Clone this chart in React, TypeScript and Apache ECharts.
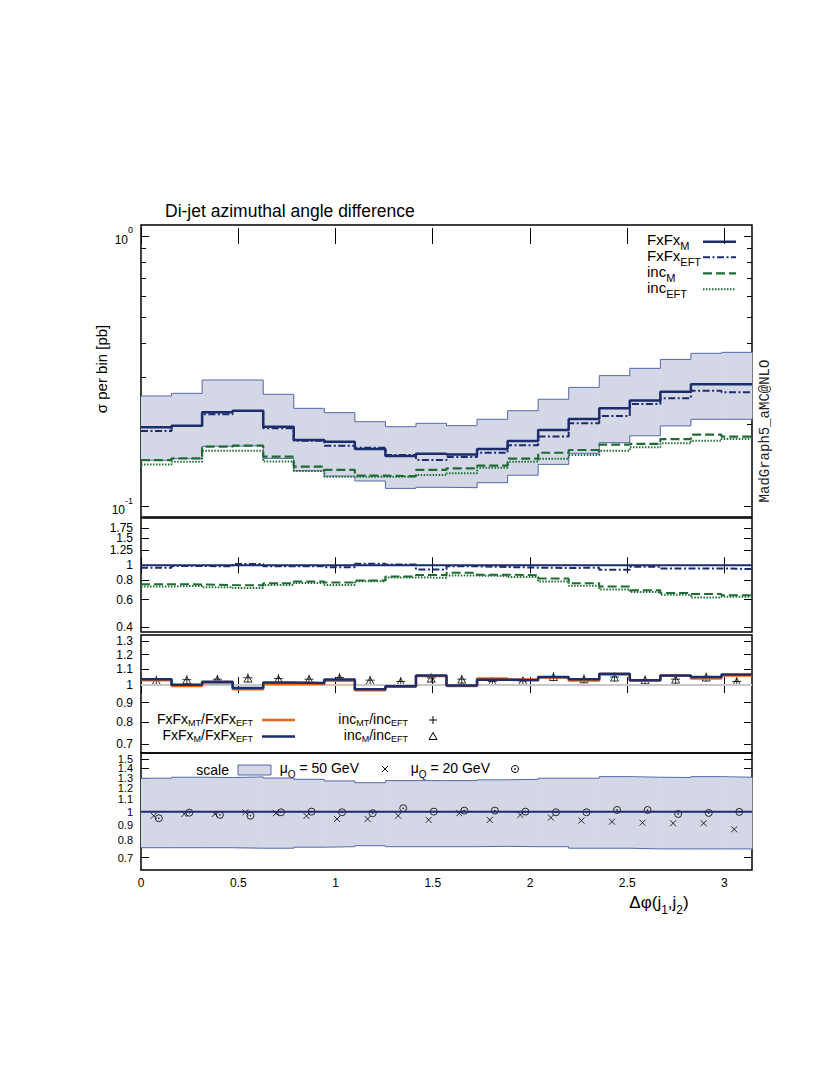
import React, { useEffect, useRef } from "react";
import * as echarts from "echarts";

// ---------------- data ----------------
const xTickValues = [0, 0.5, 1, 1.5, 2, 2.5, 3];

// Panel 1: sigma per bin [pb] (20 bins over 0..pi)
const fxfxM = [0.1956, 0.1984, 0.2223, 0.2254, 0.1967, 0.1756, 0.173, 0.1626, 0.1532, 0.156, 0.155, 0.1626, 0.174, 0.191, 0.21, 0.23, 0.246, 0.265, 0.2823, 0.2823];
const fxfxEFT = [0.1896, 0.198, 0.2185, 0.2249, 0.194, 0.1746, 0.1673, 0.1644, 0.1545, 0.148, 0.152, 0.1575, 0.168, 0.1807, 0.2024, 0.2154, 0.2386, 0.2505, 0.2673, 0.2636];
const incM = [0.148, 0.15, 0.166, 0.1673, 0.1523, 0.14, 0.136, 0.1295, 0.129, 0.136, 0.1379, 0.141, 0.1497, 0.1575, 0.1612, 0.1687, 0.1698, 0.177, 0.1837, 0.1807];
const incEFT = [0.1426, 0.146, 0.1602, 0.1602, 0.1463, 0.1349, 0.1284, 0.1284, 0.1284, 0.1303, 0.1322, 0.1386, 0.146, 0.1497, 0.1545, 0.1602, 0.165, 0.1706, 0.1746, 0.177];
const bandUp = [0.2555, 0.2614, 0.2929, 0.2929, 0.2592, 0.23, 0.2217, 0.2052, 0.1967, 0.2024, 0.1984, 0.2095, 0.2254, 0.2485, 0.275, 0.304, 0.3235, 0.349, 0.3677, 0.3708];
const bandLo = [0.1476, 0.1497, 0.1664, 0.1673, 0.15, 0.135, 0.129, 0.1238, 0.1162, 0.1173, 0.1169, 0.122, 0.13, 0.1426, 0.1567, 0.1716, 0.182, 0.198, 0.2095, 0.2095];

// Panel 2: ratios to FxFx_M
const r2FxM = [1, 1, 1, 1, 1, 1, 1, 1, 1, 1, 1, 1, 1, 1, 1, 1, 1, 1, 1, 1];
const r2FxEFT = [0.966, 0.99, 0.985, 1.02, 0.985, 0.985, 0.972, 1.025, 1.012, 0.94, 0.985, 0.975, 0.966, 0.96, 0.966, 0.937, 0.98, 0.955, 0.955, 0.945];
const r2IncM = [0.755, 0.752, 0.745, 0.742, 0.765, 0.785, 0.775, 0.796, 0.845, 0.865, 0.895, 0.87, 0.862, 0.822, 0.765, 0.73, 0.69, 0.662, 0.652, 0.64];
const r2IncEFT = [0.73, 0.736, 0.722, 0.712, 0.745, 0.768, 0.745, 0.79, 0.835, 0.83, 0.858, 0.852, 0.84, 0.786, 0.738, 0.697, 0.672, 0.645, 0.62, 0.627];

// Panel 3: ratios to EFT
const r3FxMT = [1.03, 0.995, 1.013, 0.976, 1.006, 1.006, 1.026, 0.97, 0.99, 1.056, 0.994, 1.04, 1.034, 1.046, 1.028, 1.066, 1.028, 1.058, 1.04, 1.06];
const r3FxM = [1.036, 1.002, 1.02, 0.982, 1.015, 1.013, 1.034, 0.975, 0.993, 1.06, 0.997, 1.032, 1.03, 1.05, 1.035, 1.07, 1.03, 1.06, 1.05, 1.066];
const r3IncMT = [1.03, 1.033, 1.036, 1.045, 1.04, 1.036, 1.046, 1.03, 1.022, 1.045, 1.036, 1.022, 1.025, 1.052, 1.038, 1.05, 1.032, 1.036, 1.05, 1.022];
const r3IncM = [1.026, 1.03, 1.034, 1.04, 1.036, 1.034, 1.044, 1.026, 1.02, 1.04, 1.034, 1.02, 1.026, 1.05, 1.036, 1.047, 1.03, 1.034, 1.047, 1.02];
const r3Ref = [1, 1];

// Panel 4: scale band and mu_Q variations
const scaleUp = [1.296, 1.306, 1.303, 1.309, 1.298, 1.285, 1.269, 1.252, 1.272, 1.272, 1.272, 1.28, 1.285, 1.296, 1.296, 1.312, 1.306, 1.303, 1.312, 1.306];
const scaleLo = [0.756, 0.756, 0.756, 0.753, 0.753, 0.759, 0.762, 0.768, 0.762, 0.762, 0.762, 0.764, 0.762, 0.762, 0.753, 0.753, 0.749, 0.749, 0.749, 0.749];
const scaleCentral = [1, 1];
const mu50 = [0.969, 0.982, 0.982, 0.995, 0.988, 0.967, 0.945, 0.945, 0.969, 0.938, 0.988, 0.938, 0.975, 0.955, 0.933, 0.925, 0.918, 0.914, 0.914, 0.872];
const mu20 = [0.95, 0.992, 0.975, 0.969, 0.995, 1.0, 0.995, 0.988, 1.027, 1.0, 1.008, 1.008, 1.0, 0.995, 0.995, 1.013, 1.013, 0.982, 0.99, 0.998];

// tick labels
const p1Labels = [0.1, 1];
const p1Minor = [0.2, 0.3, 0.4, 0.5, 0.6, 0.7, 0.8, 0.9];
const p2Ticks = [0.4, 0.6, 0.8, 1, 1.25, 1.5, 1.75];
const p3Ticks = [0.7, 0.8, 0.9, 1, 1.1, 1.2, 1.3];
const p4Ticks = [0.7, 0.8, 0.9, 1, 1.1, 1.2, 1.3, 1.4, 1.5];

// ---------------- style ----------------
const FONT = "Liberation Sans, Arial, sans-serif";
const NAVY = "#1c2d6e";
const GREEN = "#1f6c34";
const ORANGE = "#e8661a";
const BAND = "#d3d7e6";
const BAND_EDGE = "#5569a8";
const X_MAX = Math.PI;

const grids = [
  { left: 141, top: 225, width: 611, height: 292 },
  { left: 141, top: 518, width: 611, height: 114 },
  { left: 141, top: 635, width: 611, height: 118 },
  { left: 141, top: 753, width: 611, height: 117 },
];
const yRanges = [
  [0.09105, 1.0983],
  [0.37, 2.025],
  [0.665, 1.351],
  [0.636, 1.576],
];
const labelSizes = [12, 12, 12, 11];

function stepData(vals: number[]) {
  const w = X_MAX / vals.length;
  const pts: number[][] = vals.map((v, i) => [i * w, v]);
  pts.push([X_MAX, vals[vals.length - 1]]);
  return pts;
}
function flatData(vals: number[]) {
  return [
    [0, vals[0]],
    [X_MAX, vals[1]],
  ];
}
function centerData(vals: number[], shift: number) {
  const w = X_MAX / vals.length;
  return vals.map((v, i) => [(i + 0.5) * w + shift, v]);
}
function bandData(lo: number[], up: number[]) {
  const w = X_MAX / up.length;
  return up.map((u, i) => [i * w, (i + 1) * w, lo[i], u]);
}

const PLUS = "path://M5,0L5,10M0,5L10,5";
const CROSS = "path://M0,0L10,10M10,0L0,10";
const TRI = "path://M5,0L10,9L0,9Z";
const ODOT = "path://M0,5A5,5,0,1,1,10,5A5,5,0,1,1,0,5ZM4.3,5A0.7,0.7,0,1,1,5.7,5A0.7,0.7,0,1,1,4.3,5Z";

function buildOption() {
  const xAxis: any[] = [];
  const yAxis: any[] = [];
  const dataY: number[] = [];

  grids.forEach((g, gi) => {
    const tickCommon = { inside: true, length: 8, customValues: xTickValues, lineStyle: { color: "#000", width: 1 } };
    xAxis.push({
      type: "value", gridIndex: gi, min: 0, max: X_MAX, position: "bottom",
      axisLine: { show: false }, splitLine: { show: false },
      axisTick: tickCommon,
      axisLabel: {
        show: gi === 3, customValues: xTickValues, margin: 7, fontSize: 12, color: "#000", fontFamily: FONT,
        showMinLabel: true, showMaxLabel: true,
        formatter: (v: number) => String(v),
      },
    });
    xAxis.push({
      type: "value", gridIndex: gi, min: 0, max: X_MAX, position: "top",
      axisLine: { show: false }, splitLine: { show: false },
      axisTick: tickCommon, axisLabel: { show: false },
    });

    const [lo, hi] = yRanges[gi];
    dataY[gi] = yAxis.length;
    yAxis.push({ type: "log", logBase: 10, gridIndex: gi, min: lo, max: hi, show: false });

    const major = gi === 0 ? p1Labels : gi === 1 ? p2Ticks : gi === 2 ? p3Ticks : p4Ticks;
    const majorLog = major.map((t) => Math.log10(t));
    const fs = labelSizes[gi];
    const fmt = (v: number) => {
      const t = major.find((m) => Math.abs(Math.log10(m) - v) < 1e-6);
      if (t === undefined) return "";
      if (gi === 0) return t === 1 ? "{b|10}{sup|0}" : "{b|10}{sup|-1}";
      return String(t);
    };
    const tickAx = (pos: string, showTick: boolean, tickVals: number[], len: number, labelVals: number[] | null) => ({
      type: "value", gridIndex: gi, min: Math.log10(lo), max: Math.log10(hi), position: pos,
      axisLine: { show: false }, splitLine: { show: false },
      axisTick: { show: showTick, inside: true, length: len, customValues: tickVals, lineStyle: { color: "#000", width: 1 } },
      axisLabel: {
        show: !!labelVals, customValues: labelVals || tickVals, margin: 8, fontSize: fs, color: "#000", fontFamily: FONT,
        showMinLabel: true, showMaxLabel: true, hideOverlap: false,
        formatter: fmt,
        rich: {
          b: { fontSize: 12, fontFamily: FONT, color: "#000", lineHeight: 20, verticalAlign: "bottom" },
          sup: { fontSize: 9, fontFamily: FONT, color: "#000", lineHeight: 9, verticalAlign: "top" },
        },
      },
    });
    // labels split over two axes so neighbouring labels are not auto-hidden
    const evenLabels = majorLog.filter((_, i) => i % 2 === 0);
    const oddLabels = majorLog.filter((_, i) => i % 2 === 1);
    yAxis.push(tickAx("left", true, majorLog, 8, evenLabels));
    yAxis.push(tickAx("left", false, majorLog, 8, oddLabels));
    yAxis.push(tickAx("right", true, majorLog, 8, null));
    if (gi === 0) {
      const minorLog = p1Minor.map((t) => Math.log10(t));
      yAxis.push(tickAx("left", true, minorLog, 5, null));
      yAxis.push(tickAx("right", true, minorLog, 5, null));
    }
  });

  const ax = (gi: number) => ({ xAxisIndex: gi * 2, yAxisIndex: dataY[gi] });
  const stepLine = (gi: number, vals: number[], color: string, width: number, type: any, name: string) => ({
    type: "line", name, ...ax(gi), data: stepData(vals), step: "end", symbol: "none", showSymbol: false,
    lineStyle: { color, width, type }, silent: true,
  });
  const bandSeries = (gi: number, lo: number[], up: number[]) => ({
    type: "custom", ...ax(gi), data: bandData(lo, up), encode: { x: [0, 1], y: [2, 3] }, silent: true,
    renderItem: (params: any, api: any) => {
      const p0 = api.coord([api.value(0), api.value(3)]);
      const p1 = api.coord([api.value(1), api.value(2)]);
      return {
        type: "rect",
        shape: { x: p0[0], y: p0[1], width: p1[0] - p0[0] + 0.4, height: p1[1] - p0[1] },
        style: { fill: BAND, stroke: null },
      };
    },
  });
  const markers = (gi: number, vals: number[], shift: number, symbol: string, size: number, name: string) => ({
    type: "scatter", name, ...ax(gi), data: centerData(vals, shift), symbol, symbolSize: size, symbolKeepAspect: true,
    itemStyle: { color: "none", borderColor: "#000", borderWidth: 1 }, silent: true,
  });

  const DASHDOT = [7, 2.5, 2, 2.5];
  const DASH = [9, 4];
  const DOT = [1.5, 1.5];

  const series: any[] = [
    // panel 1
    bandSeries(0, bandLo, bandUp),
    stepLine(0, bandUp, BAND_EDGE, 1, "solid", "scale up"),
    stepLine(0, bandLo, BAND_EDGE, 1, "solid", "scale down"),
    stepLine(0, incEFT, GREEN, 2, DOT, "inc_EFT"),
    stepLine(0, incM, GREEN, 2.2, DASH, "inc_M"),
    stepLine(0, fxfxEFT, NAVY, 2, DASHDOT, "FxFx_EFT"),
    stepLine(0, fxfxM, NAVY, 2.5, "solid", "FxFx_M"),
    // panel 2
    stepLine(1, r2IncEFT, GREEN, 2, DOT, "inc_EFT ratio"),
    stepLine(1, r2IncM, GREEN, 2, DASH, "inc_M ratio"),
    stepLine(1, r2FxM, NAVY, 2, "solid", "FxFx_M ratio"),
    stepLine(1, r2FxEFT, NAVY, 2, DASHDOT, "FxFx_EFT ratio"),
    // panel 3
    { type: "line", ...ax(2), data: flatData(r3Ref), symbol: "none", lineStyle: { color: "#c8c8c8", width: 2 }, silent: true },
    stepLine(2, r3FxMT, ORANGE, 2.5, "solid", "FxFx_MT/FxFx_EFT"),
    stepLine(2, r3FxM, NAVY, 2.5, "solid", "FxFx_M/FxFx_EFT"),
    markers(2, r3IncM, 0, TRI, 8, "inc_M/inc_EFT"),
    markers(2, r3IncMT, 0, PLUS, 9, "inc_MT/inc_EFT"),
    // panel 4
    bandSeries(3, scaleLo, scaleUp),
    stepLine(3, scaleUp, BAND_EDGE, 1, "solid", "scale up r"),
    stepLine(3, scaleLo, BAND_EDGE, 1, "solid", "scale down r"),
    { type: "line", ...ax(3), data: flatData(scaleCentral), symbol: "none", lineStyle: { color: NAVY, width: 2 }, silent: true },
    markers(3, mu50, -0.013, CROSS, 6, "mu_Q = 50 GeV"),
    markers(3, mu20, 0.013, ODOT, 7, "mu_Q = 20 GeV"),
  ];

  const txt = (x: number, y: number, text: string, size: number, align: string, rich?: any, extra?: any) => ({
    type: "text", x, y, ...(extra || {}),
    style: { text, x: 0, y: 0, fill: "#000", fontSize: size, fontFamily: FONT, align, verticalAlign: "middle", rich },
  });
  const subRich = (size: number, sub: number, lh: number) => ({
    b: { fontSize: size, fontFamily: FONT, fill: "#000", color: "#000", lineHeight: lh, verticalAlign: "top" },
    sub: { fontSize: sub, fontFamily: FONT, fill: "#000", color: "#000", lineHeight: sub, verticalAlign: "bottom" },
  });
  const hline = (x1: number, x2: number, y: number, color: string, width: number, dash?: number[]) => ({
    type: "line", shape: { x1, y1: y, x2, y2: y }, style: { stroke: color, lineWidth: width, lineDash: dash || null },
  });
  const seg = (x1: number, y1: number, x2: number, y2: number) => ({
    type: "line", shape: { x1, y1, x2, y2 }, style: { stroke: "#000", lineWidth: 1 },
  });

  const legRich = subRich(15, 11, 20);
  const p3Rich = subRich(14, 9, 16);
  const p4Rich = subRich(14, 10, 19);

  const graphic: any[] = [
    txt(165, 211, "Di-jet azimuthal angle difference", 17.5, "left"),
    txt(101, 369, "σ per bin [pb]", 15, "center", undefined, { rotation: Math.PI / 2 }),
    {
      type: "text", x: 765, y: 431, rotation: Math.PI / 2,
      style: { text: "MadGraph5_aMC@NLO", fill: "#222", fontSize: 14, fontFamily: "Liberation Mono, monospace", align: "center", verticalAlign: "middle" },
    },
    txt(659, 905, "{b|Δφ(j}{sub|1}{b|,j}{sub|2}{b|)}", 17, "center", subRich(17, 12, 22)),
    // panel 1 legend
    txt(647, 241.5, "{b|FxFx}{sub|M}", 15, "left", legRich),
    txt(647, 257.5, "{b|FxFx}{sub|EFT}", 15, "left", legRich),
    txt(647, 273.5, "{b|inc}{sub|M}", 15, "left", legRich),
    txt(647, 289.5, "{b|inc}{sub|EFT}", 15, "left", legRich),
    hline(703, 736, 241.7, NAVY, 2.5),
    hline(703, 736, 257.3, NAVY, 2, [7, 2.5, 2, 2.5]),
    hline(703, 736, 273.3, GREEN, 2.2, [9, 4]),
    hline(703, 736, 289.3, GREEN, 2, [1.5, 1.5]),
    // panel 3 legend
    txt(253, 719.5, "{b|FxFx}{sub|MT}{b|/FxFx}{sub|EFT}", 14, "right", p3Rich),
    txt(253, 735.5, "{b|FxFx}{sub|M}{b|/FxFx}{sub|EFT}", 14, "right", p3Rich),
    hline(262, 295, 720, ORANGE, 2.5),
    hline(262, 295, 736.5, NAVY, 2.5),
    txt(408, 719.5, "{b|inc}{sub|MT}{b|/inc}{sub|EFT}", 14, "right", p3Rich),
    txt(408, 735.5, "{b|inc}{sub|M}{b|/inc}{sub|EFT}", 14, "right", p3Rich),
    seg(429, 720, 437, 720),
    seg(433, 716, 433, 724),
    { type: "polygon", shape: { points: [[433, 732.5], [437, 739.5], [429, 739.5]] }, style: { stroke: "#000", fill: "none", lineWidth: 1 } },
    // panel 4 legend
    txt(229, 770, "scale", 14, "right"),
    { type: "rect", shape: { x: 238, y: 765, width: 33, height: 10 }, style: { fill: BAND, stroke: BAND_EDGE, lineWidth: 1 } },
    txt(359, 770, "{b|μ}{sub|Q}{b| = 50 GeV}", 14, "right", p4Rich),
    seg(382, 766, 388, 772),
    seg(388, 766, 382, 772),
    txt(490, 770, "{b|μ}{sub|Q}{b| = 20 GeV}", 14, "right", p4Rich),
    { type: "circle", shape: { cx: 515, cy: 769, r: 3.5 }, style: { stroke: "#000", fill: "none", lineWidth: 1 } },
    { type: "circle", shape: { cx: 515, cy: 769, r: 0.8 }, style: { fill: "#000" } },
  ];

  return {
    animation: false,
    backgroundColor: "#fff",
    grid: grids.map((g) => ({
      ...g, show: true, borderColor: "#000", borderWidth: 1.5, backgroundColor: "transparent",
      containLabel: false, outerBoundsMode: "none",
    })),
    xAxis,
    yAxis,
    series,
    graphic,
  };
}

export default function App() {
  const ref = useRef<HTMLDivElement>(null);
  useEffect(() => {
    if (!ref.current) return;
    const chart = echarts.init(ref.current, undefined, { renderer: "svg" });
    chart.setOption(buildOption() as any);
    return () => chart.dispose();
  }, []);
  return (
    <div
      ref={ref}
      style={{ position: "absolute", left: 0, top: 0, width: 830, height: 1075, background: "#fff" }}
    />
  );
}
